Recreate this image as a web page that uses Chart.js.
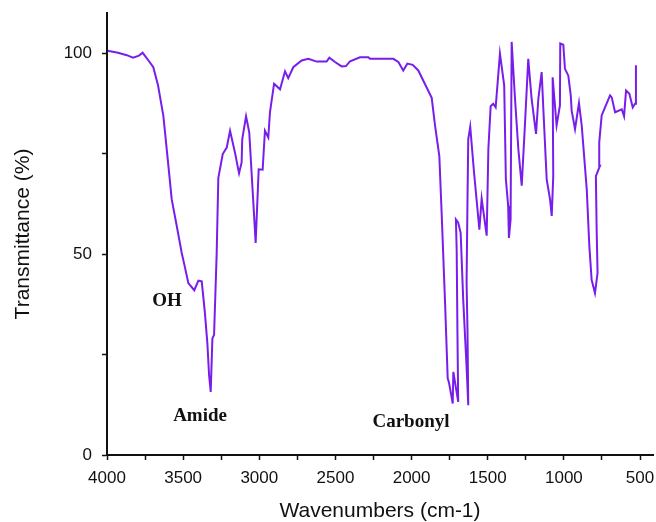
<!DOCTYPE html>
<html>
<head>
<meta charset="utf-8">
<script src="https://cdn.jsdelivr.net/npm/chart.js@4.4.0/dist/chart.umd.min.js"></script>
<style>
  html, body { margin: 0; padding: 0; background: #fff; }
  canvas { display: block; }
</style>
</head>
<body>
<canvas id="grafico" width="656" height="522"></canvas>
<script>
// Wavenumbers (cm-1), in drawing order
const wavenumbers = [
  3995, 3980, 3928, 3870, 3829, 3790, 3766, 3730, 3696, 3665,
  3630, 3597, 3575, 3542, 3510, 3490, 3466, 3427, 3400, 3378,
  3357, 3341, 3330, 3319, 3308, 3297, 3280, 3269, 3240, 3214,
  3192, 3160, 3133, 3116, 3112, 3087, 3066, 3043, 3024, 3004,
  2978, 2963, 2941, 2930, 2903, 2864, 2831, 2810, 2777, 2722,
  2678, 2623, 2558, 2540, 2503, 2459, 2431, 2404, 2339, 2284,
  2273, 2120, 2087, 2055, 2028, 1993, 1956, 1868, 1846, 1818,
  1802, 1781, 1763, 1754, 1730, 1726, 1694, 1699, 1704, 1709,
  1694, 1678, 1661, 1639, 1628, 1633, 1639, 1633, 1628, 1615,
  1590, 1555, 1540, 1507, 1496, 1481, 1464, 1448, 1420, 1392,
  1381, 1366, 1361, 1350, 1343, 1321, 1299, 1277, 1255, 1234,
  1212, 1183, 1168, 1146, 1135, 1113, 1091, 1080, 1070, 1074,
  1048, 1026, 1024, 1004, 993, 971, 955, 949, 927, 901,
  883, 850, 833, 818, 796, 779, 785, 790, 763, 768,
  752, 730, 697, 686, 664, 620, 605, 592, 570, 548,
  533, 527, 527
];

// Transmittance (%) for each wavenumber above
const transmitancia = [
  100.6, 100.5, 100.1, 99.5, 98.9, 99.4, 100.1, 98.3, 96.5, 92,
  84.4, 72, 63.6, 57, 50.4, 47, 42.8, 41, 43.4, 43.2,
  35.3, 27.8, 20, 15.7, 29, 29.9, 50, 69, 74.9, 76.5,
  80.7, 75.3, 70.1, 72.8, 78.6, 84.3, 80.3, 65.3, 52.8, 71.1,
  71, 80.7, 79, 85.3, 92.4, 91, 95.5, 93.8, 96.5, 98.2,
  98.6, 97.9, 97.9, 98.9, 97.8, 96.7, 96.8, 98, 99, 99,
  98.6, 98.6, 97.8, 95.7, 97.4, 97.1, 95.7, 88.9, 82, 74.4,
  59.5, 38.6, 19.1, 17.9, 12.8, 20.7, 13.2, 30.4, 51.1, 58.6,
  57.8, 55.3, 38.6, 21.9, 12.4, 31, 42.9, 63.6, 78.6, 81.7,
  70.3, 56.1, 63.8, 54.6, 76.1, 86.8, 87.4, 86.5, 99.9, 92,
  68.6, 62, 54, 58.6, 102.8, 88.6, 76.1, 67, 82.8, 98.6,
  88.6, 79.9, 88.6, 95.3, 86.1, 68.6, 63.6, 59.5, 69.4, 94,
  82, 87, 102.4, 102.1, 96.1, 94.4, 89.5, 85.7, 81.1, 87.6,
  82, 66.1, 52, 43.6, 40.3, 45.3, 56.1, 69.4, 72, 77.8,
  84.5, 86.5, 89.5, 89, 85.3, 86, 84.3, 90.7, 89.9, 86.5,
  87.4, 94.5, 97
];

// Ticks of the axes (minor ticks have no label)
const ticksX = [4000, 3750, 3500, 3250, 3000, 2750, 2500, 2250, 2000, 1750, 1500, 1250, 1000, 750, 500];
const ticksY = [0, 25, 50, 75, 100];

// Band labels: text, wavenumber, transmittance
const etiquetas = ['OH', 'Amide', 'Carbonyl'];
const etiquetasX = [3606, 3389, 2004];
const etiquetasY = [38.3, 9.6, 8.3];

const puntos = wavenumbers.map((w, i) => ({ x: w, y: transmitancia[i] }));

const fuenteEje = '"Liberation Sans", Arial, sans-serif';

// Fixed axis box, no extra padding from the labels
function fijarEje(s, tam) {
  if (s.isHorizontal()) s.height = tam; else s.width = tam;
  s.paddingTop = 0;
  s.paddingBottom = 0;
  s.paddingLeft = 0;
  s.paddingRight = 0;
}

// Plugin for the band labels
const pluginEtiquetas = {
  id: 'etiquetas',
  afterDraw(chart) {
    const ctx = chart.ctx;
    const sx = chart.scales.x;
    const sy = chart.scales.y;
    ctx.save();
    ctx.font = 'bold 19px "Liberation Serif", "Times New Roman", serif';
    ctx.fillStyle = '#111';
    ctx.textAlign = 'center';
    ctx.textBaseline = 'middle';
    etiquetas.forEach((t, i) => {
      ctx.fillText(t, sx.getPixelForValue(etiquetasX[i]), sy.getPixelForValue(etiquetasY[i]));
    });
    ctx.restore();
  }
};

const ctx = document.getElementById('grafico').getContext('2d');

new Chart(ctx, {
  type: 'scatter',
  data: {
    datasets: [{
      data: puntos,
      showLine: true,
      borderColor: 'rgb(120, 30, 235)',
      borderWidth: 2,
      pointRadius: 0,
      tension: 0,
      fill: false
    }]
  },
  options: {
    responsive: false,
    animation: false,
    devicePixelRatio: 1,
    layout: { padding: { top: 13, right: 3, left: 0, bottom: 0 } },
    plugins: {
      legend: { display: false },
      tooltip: { enabled: false }
    },
    scales: {
      x: {
        type: 'linear',
        reverse: true,
        min: 415,
        max: 4000,
        afterBuildTicks: s => { s.ticks = ticksX.map(v => ({ value: v })); },
        afterFit: s => fijarEje(s, 67),
        ticks: {
          autoSkip: false,
          maxRotation: 0,
          padding: 8,
          color: '#111',
          font: { family: fuenteEje, size: 17 },
          callback: v => (v % 500 === 0 ? v : '')
        },
        grid: {
          drawOnChartArea: false,
          drawTicks: true,
          tickLength: 5,
          tickColor: '#111',
          tickWidth: 1.5
        },
        border: { color: '#111', width: 2 },
        title: {
          display: true,
          text: 'Wavenumbers (cm-1)',
          color: '#111',
          font: { family: fuenteEje, size: 21, lineHeight: 1 },
          padding: { top: 0, bottom: 0 }
        }
      },
      y: {
        min: 0,
        max: 110,
        afterBuildTicks: s => { s.ticks = ticksY.map(v => ({ value: v })); },
        afterFit: s => fijarEje(s, 107),
        ticks: {
          autoSkip: false,
          padding: 10,
          color: '#111',
          font: { family: fuenteEje, size: 17 },
          callback: v => (v % 50 === 0 ? v : '')
        },
        grid: {
          drawOnChartArea: false,
          drawTicks: true,
          tickLength: 5,
          tickColor: '#111',
          tickWidth: 1.5
        },
        border: { color: '#111', width: 2 },
        title: {
          display: true,
          text: 'Transmittance (%)',
          color: '#111',
          font: { family: fuenteEje, size: 21, lineHeight: 1 },
          padding: { top: 13, bottom: 0 }
        }
      }
    }
  },
  plugins: [pluginEtiquetas]
});
</script>
</body>
</html>
